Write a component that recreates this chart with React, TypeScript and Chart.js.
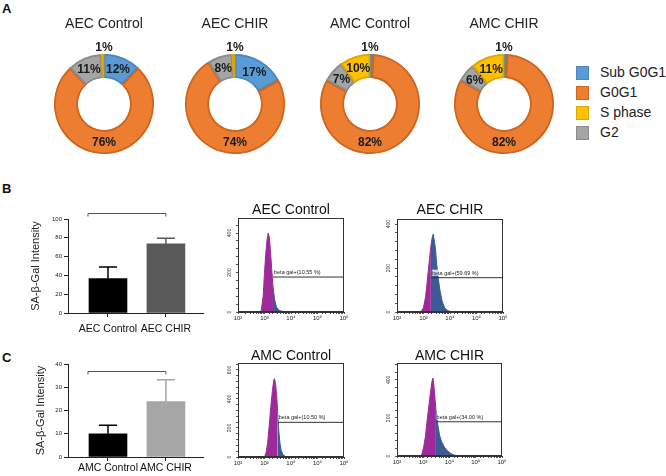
import React, { useEffect, useRef } from 'react';
import { Chart, registerables } from 'chart.js';

Chart.register(...registerables);

const FONT = "'Liberation Sans', Arial, Helvetica, sans-serif";
Chart.defaults.font.family = FONT;
Chart.defaults.color = '#222';

// ---------- Panel A: cell cycle donuts ----------
const phases = ['Sub G0G1', 'G0G1', 'S phase', 'G2'];
const phaseColors = ['#5B9BD5', '#ED7D31', '#FFC000', '#A5A5A5'];
const phaseBorders = ['#4A86BF', '#CF6620', '#DDA600', '#8C8C8C'];
const ringOrder = [0, 1, 3, 2]; // clockwise from 12 o'clock
const donutTitles = ['AEC Control', 'AEC CHIR', 'AMC Control', 'AMC CHIR'];
const aecControlPct = [12, 76, 1, 11];
const aecChirPct = [17, 74, 1, 8];
const amcControlPct = [1, 82, 10, 7];
const amcChirPct = [1, 82, 11, 6];

// ---------- Panels B / C: bar charts ----------
const barLabelsB = ['AEC Control', 'AEC CHIR'];
const barValuesB = [36.5, 73.5];
const barErrorsB = [12.5, 6];
const barLabelsC = ['AMC Control', 'AMC CHIR'];
const barValuesC = [10, 23.8];
const barErrorsC = [3.7, 9.4];
const yTitle = 'SA-β-Gal Intensity';

// ---------- Panels B / C: flow histograms (log10 fluorescence, counts) ----------
const histAecControlLog = [2.8, 2.88, 2.95, 3.0, 3.05, 3.1, 3.14, 3.18, 3.22, 3.27, 3.32, 3.38, 3.45, 3.55, 3.7, 3.9];
const histAecControlCount = [0, 8, 80, 200, 300, 370, 400, 380, 320, 220, 130, 65, 25, 8, 2, 0];
const histAecChirLog = [2.9, 3.0, 3.08, 3.15, 3.22, 3.28, 3.33, 3.37, 3.4, 3.45, 3.5, 3.56, 3.62, 3.7, 3.8, 3.92, 4.05, 4.2];
const histAecChirCount = [0, 20, 70, 150, 235, 300, 340, 355, 330, 290, 215, 150, 100, 50, 18, 6, 1, 0];
const histAmcControlLog = [3.0, 3.06, 3.12, 3.18, 3.24, 3.3, 3.35, 3.38, 3.42, 3.46, 3.5, 3.54, 3.58, 3.63, 3.7, 3.8, 3.9];
const histAmcControlCount = [0, 30, 100, 220, 350, 460, 530, 540, 500, 420, 300, 180, 100, 45, 15, 3, 0];
const histAmcChirLog = [2.88, 2.95, 3.02, 3.08, 3.15, 3.22, 3.28, 3.33, 3.37, 3.4, 3.45, 3.5, 3.56, 3.62, 3.7, 3.8, 3.9, 4.0, 4.1, 4.2, 4.35];
const histAmcChirCount = [0, 10, 50, 100, 190, 270, 340, 390, 410, 380, 300, 215, 160, 110, 75, 48, 30, 18, 9, 4, 0];
const histTitles = ['AEC Control', 'AEC CHIR', 'AMC Control', 'AMC CHIR'];
const gateLogs = [3.32, 3.28, 3.5, 3.47];
const gateLevels = [177, 156, 239, 180];
const gatePercents = ['10.55', '59.69', '10.50', '34.00'];
const histYMax = [476, 423, 648, 489];

const MAGENTA = '#9d2a98';
const BLUE = '#3c5a96';
const SUP: Record<number, string> = { 2: '²', 3: '³', 4: '⁴', 5: '⁵', 6: '⁶' };

const donutLabels = {
  id: 'donutLabels',
  afterDatasetsDraw(chart: any) {
    const meta = chart.getDatasetMeta(0);
    const ds = chart.data.datasets[0];
    const ctx = chart.ctx;
    ctx.save();
    ctx.font = `bold 12px ${FONT}`;
    ctx.fillStyle = '#1a1a1a';
    ctx.textAlign = 'center';
    ctx.textBaseline = 'middle';
    meta.data.forEach((arc: any, i: number) => {
      const v = ds.data[i];
      const p = arc.getProps(['x', 'y', 'startAngle', 'endAngle', 'innerRadius', 'outerRadius'], true);
      const r = (p.innerRadius + p.outerRadius) / 2;
      let lx: number;
      let ly: number;
      if (v < 3) {
        lx = p.x;
        ly = p.y - p.outerRadius - 7;
      } else if (v > 50) {
        lx = p.x;
        ly = p.y + r;
      } else {
        const a = (p.startAngle + p.endAngle) / 2;
        lx = p.x + Math.cos(a) * r;
        ly = p.y + Math.sin(a) * r;
      }
      ctx.fillText(`${v}%`, lx, ly + 1);
    });
    ctx.restore();
  },
};

function donutConfig(title: string, pct: number[]): any {
  return {
    type: 'doughnut',
    data: {
      labels: ringOrder.map((i) => phases[i]),
      datasets: [
        {
          data: ringOrder.map((i) => pct[i]),
          backgroundColor: ringOrder.map((i) => phaseColors[i]),
          borderColor: ringOrder.map((i) => phaseBorders[i]),
          borderWidth: 1.5,
          borderAlign: 'inner',
          radius: 50,
          cutout: '52%',
        },
      ],
    },
    options: {
      responsive: false,
      animation: false,
      events: [],
      layout: { padding: 0 },
      plugins: {
        legend: { display: false },
        tooltip: { enabled: false },
        title: {
          display: true,
          text: title,
          color: '#222',
          font: { size: 14, weight: 'normal', lineHeight: 1 },
          padding: { top: 17, bottom: 15 },
        },
      },
    },
    plugins: [donutLabels],
  };
}

function barExtras(errors: number[], errColors: string[], bracketValue: number) {
  return {
    id: 'barExtras',
    afterDatasetsDraw(chart: any) {
      const { ctx, scales } = chart;
      const y = scales.y;
      const meta = chart.getDatasetMeta(0);
      const ds = chart.data.datasets[0];
      ctx.save();
      meta.data.forEach((bar: any, i: number) => {
        const v = ds.data[i].y;
        const px = bar.x;
        const yTop = y.getPixelForValue(v + errors[i]);
        const yBase = y.getPixelForValue(v);
        ctx.strokeStyle = errColors[i];
        ctx.lineWidth = 1.5;
        ctx.beginPath();
        ctx.moveTo(px, yBase);
        ctx.lineTo(px, yTop);
        ctx.moveTo(px - 9, yTop);
        ctx.lineTo(px + 9, yTop);
        ctx.stroke();
      });
      const yb = Math.round(y.getPixelForValue(bracketValue)) + 0.5;
      const b0 = meta.data[0];
      const b1 = meta.data[1];
      const x0 = b0.x - b0.width / 2 - 1;
      const x1 = b1.x;
      ctx.strokeStyle = '#555';
      ctx.lineWidth = 1;
      ctx.beginPath();
      ctx.moveTo(x0, yb + 3);
      ctx.lineTo(x0, yb);
      ctx.lineTo(x1, yb);
      ctx.lineTo(x1, yb + 3);
      ctx.stroke();
      ctx.restore();
    },
  };
}

function barConfig(
  labels: string[],
  values: number[],
  errors: number[],
  colors: string[],
  yMax: number,
  yStep: number,
  bracketValue: number,
  pad: { top: number; bottom: number },
  xAxisH: number,
  tickPad: number,
  titlePad: number
): any {
  return {
    type: 'bar',
    data: {
      datasets: [
        {
          data: values.map((v, i) => ({ x: i, y: v })),
          backgroundColor: colors,
          borderWidth: 0,
          barThickness: 38,
        },
      ],
    },
    options: {
      responsive: false,
      animation: false,
      events: [],
      layout: { padding: { top: pad.top, right: 7, bottom: pad.bottom, left: 0 } },
      plugins: { legend: { display: false }, tooltip: { enabled: false } },
      scales: {
        x: {
          type: 'linear',
          min: -0.69,
          max: 1.64,
          offset: false,
          afterBuildTicks: (s: any) => {
            s.ticks = labels.map((_, i) => ({ value: i }));
          },
          afterFit: (s: any) => {
            s.height = xAxisH;
          },
          ticks: {
            autoSkip: false,
            maxRotation: 0,
            minRotation: 0,
            padding: tickPad,
            font: { size: 10.5 },
            color: '#111',
            callback: (v: number) => labels[v] ?? '',
          },
          grid: { drawOnChartArea: false, drawTicks: true, tickLength: 4, color: '#222', offset: false },
          border: { display: true, color: '#222', width: 1 },
        },
        y: {
          min: 0,
          max: yMax,
          afterFit: (s: any) => {
            s.width = 48;
          },
          ticks: { stepSize: yStep, font: { size: 6 }, padding: 2, color: '#222' },
          grid: { drawOnChartArea: false, tickLength: 4, color: '#222' },
          border: { display: true, color: '#222', width: 1 },
          title: {
            display: true,
            text: yTitle,
            color: '#222',
            font: { size: 11 },
            padding: { top: titlePad, bottom: 0 },
          },
        },
      },
    },
    plugins: [barExtras(errors, colors, bracketValue)],
  };
}

function histExtras(yMax: number, gateX: number, gateLevel: number, pct: string) {
  return {
    id: 'histExtras',
    afterDraw(chart: any) {
      const { ctx, chartArea: a, scales } = chart;
      const x = scales.x;
      const y = scales.y;
      ctx.save();
      ctx.strokeStyle = '#333';
      ctx.lineWidth = 1;
      const l = Math.round(a.left) + 0.5;
      const t = Math.round(a.top) + 0.5;
      const r = Math.round(a.right) - 0.5;
      const b = Math.round(a.bottom) - 0.5;
      ctx.strokeRect(l, t, r - l, b - t);
      // rotated y labels
      ctx.fillStyle = '#333';
      ctx.font = `5px ${FONT}`;
      ctx.textAlign = 'center';
      ctx.textBaseline = 'middle';
      for (let v = 0; v <= yMax; v += 200) {
        ctx.save();
        ctx.translate(a.left - 8, y.getPixelForValue(v));
        ctx.rotate(-Math.PI / 2);
        ctx.fillText(String(v), 0, 0);
        ctx.restore();
      }
      // gate label
      const text = `beta gal+(${pct} %)`;
      ctx.font = `5.5px ${FONT}`;
      ctx.textAlign = 'left';
      ctx.textBaseline = 'alphabetic';
      const gx = x.getPixelForValue(gateX) + 1;
      const gy = y.getPixelForValue(gateLevel) - 3;
      const w = ctx.measureText(text).width;
      ctx.fillStyle = 'rgba(255,255,255,0.8)';
      ctx.fillRect(gx, gy - 5, w + 1, 6);
      ctx.fillStyle = '#222';
      ctx.fillText(text, gx, gy);
      ctx.restore();
    },
  };
}

function histConfig(k: number, logs: number[], counts: number[], pt: number, pb: number): any {
  const gateX = Math.pow(10, gateLogs[k]);
  const yMax = histYMax[k];
  const pick = (c: any) => (c.p1.parsed.x > gateX * 1.0001 ? BLUE : MAGENTA);
  return {
    type: 'line',
    data: {
      datasets: [
        {
          data: [
            { x: gateX, y: gateLevels[k] },
            { x: 1e6, y: gateLevels[k] },
          ],
          borderColor: '#333',
          borderWidth: 1,
          pointRadius: 0,
          fill: false,
        },
        {
          data: logs.map((l, i) => ({ x: Math.pow(10, l), y: counts[i] })),
          fill: 'origin',
          borderWidth: 1,
          pointRadius: 0,
          tension: 0,
          backgroundColor: MAGENTA,
          borderColor: MAGENTA,
          segment: { backgroundColor: pick, borderColor: pick },
        },
      ],
    },
    options: {
      responsive: false,
      animation: false,
      events: [],
      layout: { padding: { left: 0, right: 6, top: 0, bottom: 2 } },
      plugins: {
        legend: { display: false },
        tooltip: { enabled: false },
        title: {
          display: true,
          fullSize: false,
          text: histTitles[k],
          color: '#111',
          font: { size: 14, weight: 'normal', lineHeight: 1 },
          padding: { top: pt, bottom: pb },
        },
      },
      scales: {
        x: {
          type: 'logarithmic',
          min: 100,
          max: 1e6,
          afterFit: (s: any) => {
            s.height = 13;
          },
          ticks: {
            autoSkip: false,
            maxRotation: 0,
            minRotation: 0,
            font: { size: 6 },
            padding: 1,
            color: '#222',
            callback: (v: number) => {
              const e = Math.log10(v);
              const r = Math.round(e);
              return Math.abs(e - r) < 1e-6 ? '10' + (SUP[r] || '') : '';
            },
          },
          grid: { drawOnChartArea: false, tickLength: 2, color: '#555' },
          border: { display: true, color: '#333' },
        },
        y: {
          type: 'linear',
          min: 0,
          max: yMax,
          afterFit: (s: any) => {
            s.width = 20;
          },
          ticks: { display: false, stepSize: 40, includeBounds: false },
          grid: { drawOnChartArea: false, tickLength: 2, color: '#555' },
          border: { display: true, color: '#333' },
        },
      },
    },
    plugins: [histExtras(yMax, gateX, gateLevels[k], gatePercents[k])],
  };
}

type Spec = { left: number; top: number; width: number; height: number; make: () => any };

const donutSamples = [aecControlPct, aecChirPct, amcControlPct, amcChirPct];
const donutCx = [104, 235, 370, 504];

const specs: Spec[] = [
  ...donutSamples.map((pct, i) => ({
    left: donutCx[i] - 65,
    top: 0,
    width: 130,
    height: 162,
    make: () => donutConfig(donutTitles[i], pct),
  })),
  {
    left: 20,
    top: 198,
    width: 190,
    height: 142,
    make: () =>
      barConfig(barLabelsB, barValuesB, barErrorsB, ['#000000', '#595959'], 100, 20, 106, { top: 21, bottom: 5 }, 22, 6, 9),
  },
  {
    left: 20,
    top: 345,
    width: 190,
    height: 131,
    make: () =>
      barConfig(barLabelsC, barValuesC, barErrorsC, ['#000000', '#a6a6a6'], 40, 10, 37, { top: 19, bottom: 0 }, 19, 1, 14),
  },
  { left: 218, top: 198, width: 132, height: 129, make: () => histConfig(0, histAecControlLog, histAecControlCount, 5, 1) },
  { left: 377, top: 199, width: 132, height: 128, make: () => histConfig(1, histAecChirLog, histAecChirCount, 4, 2) },
  { left: 218, top: 344, width: 132, height: 128, make: () => histConfig(2, histAmcControlLog, histAmcControlCount, 5, 0) },
  { left: 377, top: 344, width: 131, height: 127, make: () => histConfig(3, histAmcChirLog, histAmcChirCount, 5, 0) },
];

export default function App() {
  const refs = useRef<(HTMLCanvasElement | null)[]>([]);

  useEffect(() => {
    const charts: Chart[] = [];
    specs.forEach((s, i) => {
      const c = refs.current[i];
      if (c) charts.push(new Chart(c, s.make()));
    });
    return () => charts.forEach((c) => c.destroy());
  }, []);

  const letter = (t: string, top: number) => (
    <div
      key={t}
      style={{
        position: 'absolute',
        left: 2,
        top,
        fontFamily: FONT,
        fontWeight: 'bold',
        fontSize: 13,
        lineHeight: '15px',
        color: '#111',
      }}
    >
      {t}
    </div>
  );

  return (
    <div
      style={{
        position: 'absolute',
        left: 0,
        top: 0,
        width: 666,
        height: 476,
        background: '#fff',
        overflow: 'hidden',
        fontFamily: FONT,
      }}
    >
      {specs.map((s, i) => (
        <canvas
          key={i}
          ref={(el) => {
            refs.current[i] = el;
          }}
          width={s.width}
          height={s.height}
          style={{ position: 'absolute', left: s.left, top: s.top, width: s.width, height: s.height }}
        />
      ))}
      {letter('A', 0.5)}
      {letter('B', 180.5)}
      {letter('C', 350)}
      {phases.map((p, i) => (
        <React.Fragment key={p}>
          <div
            style={{
              position: 'absolute',
              left: 576,
              top: 72 + i * 20 - 6.5,
              width: 11,
              height: 12,
              background: phaseColors[i],
              border: `1px solid ${phaseBorders[i]}`,
            }}
          />
          <div
            style={{
              position: 'absolute',
              left: 600,
              top: 72 + i * 20 - 9,
              fontSize: 14,
              lineHeight: '18px',
              color: '#222',
              whiteSpace: 'nowrap',
            }}
          >
            {p}
          </div>
        </React.Fragment>
      ))}
    </div>
  );
}
